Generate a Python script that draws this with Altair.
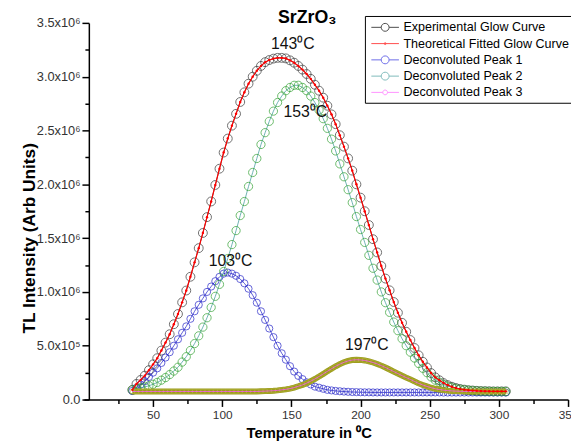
import altair as alt
import pandas as pd

temps = [35, 38, 41, 44, 47, 50, 53, 56, 59, 62,
         65, 68, 71, 74, 77, 80, 83, 86, 89, 92,
         95, 98, 101, 104, 107, 110, 113, 116, 119, 122,
         125, 128, 131, 134, 137, 140, 143, 146, 149, 152,
         155, 158, 161, 164, 167, 170, 173, 176, 179, 182,
         185, 188, 191, 194, 197, 200, 203, 206, 209, 212,
         215, 218, 221, 224, 227, 230, 233, 236, 239, 242,
         245, 248, 251, 254, 257, 260, 263, 266, 269, 272,
         275, 278, 281, 284, 287, 290, 293, 296, 299, 302, 305]

# intensities in units of 10^6
experimental = [0.09, 0.145, 0.182, 0.222, 0.273, 0.327, 0.384, 0.455, 0.529, 0.607,
                0.700, 0.795, 0.903, 1.013, 1.141, 1.275, 1.407, 1.548, 1.695, 1.841,
                1.994, 2.145, 2.295, 2.425, 2.545, 2.655, 2.765, 2.855, 2.935, 3.000,
                3.055, 3.100, 3.135, 3.155, 3.168, 3.175, 3.175, 3.170, 3.152, 3.130,
                3.100, 3.066, 3.025, 2.980, 2.925, 2.870, 2.805, 2.730, 2.650, 2.559,
                2.456, 2.350, 2.241, 2.127, 2.000, 1.876, 1.750, 1.622, 1.490, 1.367,
                1.241, 1.124, 1.015, 0.906, 0.807, 0.713, 0.630, 0.553, 0.479, 0.411,
                0.351, 0.298, 0.246, 0.206, 0.179, 0.153, 0.134, 0.119, 0.107, 0.098,
                0.092, 0.087, 0.084, 0.081, 0.079, 0.078, 0.077, 0.076, 0.076, 0.076, 0.076]

fitted = [0.09, 0.145, 0.182, 0.222, 0.273, 0.327, 0.384, 0.455, 0.529, 0.607,
          0.700, 0.795, 0.903, 1.013, 1.141, 1.275, 1.407, 1.548, 1.695, 1.841,
          1.994, 2.145, 2.295, 2.425, 2.545, 2.655, 2.765, 2.855, 2.935, 3.000,
          3.055, 3.100, 3.135, 3.155, 3.168, 3.175, 3.175, 3.170, 3.152, 3.130,
          3.100, 3.066, 3.025, 2.980, 2.925, 2.870, 2.805, 2.730, 2.650, 2.559,
          2.456, 2.350, 2.241, 2.127, 2.000, 1.876, 1.750, 1.622, 1.490, 1.367,
          1.241, 1.124, 1.015, 0.906, 0.807, 0.713, 0.630, 0.553, 0.479, 0.411,
          0.351, 0.298, 0.246, 0.206, 0.179, 0.153, 0.134, 0.119, 0.107, 0.098,
          0.092, 0.087, 0.084, 0.081, 0.079, 0.078, 0.077, 0.076, 0.076, 0.076, 0.076]

peak1 = [0.08, 0.11, 0.14, 0.17, 0.21, 0.25, 0.29, 0.34, 0.39, 0.44,
         0.50, 0.56, 0.62, 0.68, 0.75, 0.82, 0.88, 0.94, 1.00, 1.05,
         1.10, 1.14, 1.17, 1.18, 1.17, 1.15, 1.12, 1.08, 1.03, 0.97,
         0.90, 0.82, 0.74, 0.66, 0.58, 0.50, 0.43, 0.37, 0.31, 0.26,
         0.22, 0.19, 0.16, 0.14, 0.12, 0.11, 0.10, 0.09, 0.085, 0.08,
         0.077, 0.074, 0.072, 0.070, 0.069, 0.068, 0.067, 0.067, 0.066, 0.066,
         0.066, 0.066, 0.066, 0.066, 0.066, 0.066, 0.066, 0.066, 0.066, 0.066,
         0.066, 0.066, 0.066, 0.066, 0.066, 0.065, 0.065, 0.065, 0.065, 0.065,
         0.065, 0.065, 0.065, 0.065, 0.065, 0.065, 0.065, 0.065, 0.065, 0.065, 0.065]

peak2 = [0.09, 0.10, 0.107, 0.117, 0.128, 0.142, 0.159, 0.18, 0.204, 0.232,
         0.265, 0.30, 0.348, 0.398, 0.456, 0.52, 0.592, 0.673, 0.76, 0.856,
         0.959, 1.07, 1.19, 1.31, 1.44, 1.57, 1.71, 1.84, 1.98, 2.11,
         2.24, 2.37, 2.48, 2.585, 2.68, 2.76, 2.82, 2.87, 2.90, 2.92,
         2.92, 2.90, 2.87, 2.82, 2.76, 2.69, 2.61, 2.52, 2.42, 2.31,
         2.19, 2.07, 1.95, 1.83, 1.70, 1.58, 1.46, 1.34, 1.22, 1.11,
         1.00, 0.90, 0.81, 0.72, 0.64, 0.565, 0.50, 0.44, 0.385, 0.335,
         0.29, 0.25, 0.21, 0.18, 0.16, 0.14, 0.125, 0.113, 0.103, 0.095,
         0.09, 0.086, 0.083, 0.08, 0.078, 0.077, 0.076, 0.075, 0.075, 0.075, 0.075]

peak3 = [0.075, 0.075, 0.075, 0.075, 0.075, 0.075, 0.075, 0.075, 0.075, 0.075,
         0.075, 0.075, 0.075, 0.075, 0.075, 0.075, 0.075, 0.075, 0.075, 0.075,
         0.075, 0.075, 0.075, 0.075, 0.075, 0.075, 0.075, 0.075, 0.075, 0.075,
         0.075, 0.077, 0.078, 0.080, 0.082, 0.085, 0.090, 0.095, 0.102, 0.111,
         0.123, 0.136, 0.152, 0.171, 0.191, 0.214, 0.238, 0.262, 0.286, 0.309,
         0.329, 0.346, 0.359, 0.367, 0.370, 0.368, 0.363, 0.355, 0.344, 0.331,
         0.315, 0.298, 0.279, 0.260, 0.241, 0.222, 0.204, 0.187, 0.168, 0.150,
         0.135, 0.122, 0.110, 0.100, 0.093, 0.087, 0.083, 0.080, 0.078, 0.077,
         0.076, 0.075, 0.075, 0.075, 0.075, 0.075, 0.075, 0.075, 0.075, 0.075, 0.075]

series_names = ["Experimental Glow Curve", "Theoretical Fitted Glow Curve",
                "Deconvoluted Peak 1", "Deconvoluted Peak 2", "Deconvoluted Peak 3"]
legend_colors = ["#000000", "#ff0000", "#2f2fe0", "#4a9f9f", "#ff66ff"]
legend_shapes = [
    "M-1.75,0H-0.5M0.5,0H1.75M0.5,0A0.5,0.5,0,1,1,-0.5,0A0.5,0.5,0,1,1,0.5,0",
    "M-1.75,0H1.75M0.12,0A0.12,0.12,0,1,1,-0.12,0A0.12,0.12,0,1,1,0.12,0",
    "M-1.75,0H-0.5M0.5,0H1.75M0.5,0A0.5,0.5,0,1,1,-0.5,0A0.5,0.5,0,1,1,0.5,0",
    "M-1.75,0H-0.5M0.5,0H1.75M0.5,0A0.5,0.5,0,1,1,-0.5,0A0.5,0.5,0,1,1,0.5,0",
    "M-1.75,0H-0.3M0.3,0H1.75M0.3,0A0.3,0.3,0,1,1,-0.3,0A0.3,0.3,0,1,1,0.3,0",
]

ann_text = ["143\u2070C", "153\u2070C", "103\u2070C", "197\u2070C"]
ann_t = [151, 160, 106, 204.5]
ann_i = [3.30, 2.675, 1.29, 0.51]

y_ticks = [0, 0.25, 0.5, 0.75, 1.0, 1.25, 1.5, 1.75, 2.0, 2.25, 2.5, 2.75, 3.0, 3.25, 3.5]
x_ticks = [25, 50, 75, 100, 125, 150, 175, 200, 225, 250, 275, 300, 325, 350]

rows = []
for name, vals in zip(series_names, [experimental, fitted, peak1, peak2, peak3]):
    for t, v in zip(temps, vals):
        rows.append({"series": name, "T": t, "I": v})
df = pd.DataFrame(rows)
ann = pd.DataFrame({"label": ann_text, "T": ann_t, "I": ann_i})

FONT = "Liberation Sans"

x_axis = alt.Axis(
    values=x_ticks, grid=False,
    labelExpr="datum.value % 50 == 0 ? datum.label : ''",
    tickSize={"condition": {"test": "datum.value % 50 == 0", "value": 7}, "value": 4},
    labelFont=FONT, labelFontSize=12, labelColor="#333333", labelPadding=3,
    labelFlush=False, labelOverlap=False,
    domainColor="black", domainWidth=1.5, tickColor="black", tickWidth=1.5,
    title="Temperature in \u2070C", titleFont=FONT, titleFontSize=15, titleFontWeight="bold",
    titleColor="black", titleX=228, titleY=38, titleAlign="center", titleBaseline="alphabetic",
)
y_axis = alt.Axis(
    values=y_ticks, grid=False, offset=-5,
    labelExpr="datum.value == 0 ? '0.0' : (datum.value == 0.5 ? '5.0x10\u2075' : "
              "(round(datum.value*4) % 2 == 0 ? format(datum.value, '.1f') + 'x10\u2076' : ''))",
    tickSize={"condition": {"test": "round(datum.value*4) % 2 == 0", "value": 7}, "value": 4},
    labelFont=FONT, labelFontSize=13, labelColor="#333333", labelPadding=2,
    labelFlush=False, labelOverlap=False,
    domainColor="black", domainWidth=1.5, tickColor="black", tickWidth=1.5,
    title="TL Intensity (Arb Units)", titleFont=FONT, titleFontSize=17.5, titleFontWeight="bold",
    titleColor="black", titleAngle=270, titleX=-60, titleY=218, titleAlign="center",
    titleBaseline="middle",
)

xenc = alt.X("T:Q", scale=alt.Scale(domain=[0, 350], nice=False, zero=False), axis=x_axis)
yenc = alt.Y("I:Q", scale=alt.Scale(domain=[0, 3.5], nice=False), axis=y_axis)

base = alt.Chart(df).encode(x=xenc, y=yenc)


def sel(i):
    return base.transform_filter(alt.datum.series == series_names[i])


exp_line = sel(0).mark_line(color="#222222", strokeWidth=0.8)
exp_pts = sel(0).mark_point(shape="circle", filled=False, color="#333333", size=81, strokeWidth=1)
p1_line = sel(2).mark_line(color="#3333cc", strokeWidth=0.8)
p1_pts = sel(2).mark_point(shape="circle", filled=False, color="#2424c8", size=53, strokeWidth=1)
p2_line = sel(3).mark_line(color="#4a9f9f", strokeWidth=0.8)
p2_pts = sel(3).mark_point(shape="circle", filled=False, color="#2f9f2f", size=70, strokeWidth=1)
p3_band = sel(4).mark_line(color="#9c9c1c", strokeWidth=6)
p3_pts = sel(4).mark_point(shape="square", filled=False, color="#b4b43c", size=16, strokeWidth=0.8)
p3_line = sel(4).mark_line(color="#ff55ff", strokeWidth=0.8)
fit_line = sel(1).mark_line(color="#ff0000", strokeWidth=1.2)
fit_pts = sel(1).mark_point(shape="circle", filled=True, color="#ff0000", size=6, opacity=1)

labels = alt.Chart(ann).mark_text(font=FONT, fontSize=16, color="#111111").encode(
    x=xenc, y=yenc, text="label:N")

legend = alt.Legend(
    title=None, orient="none", legendX=285, legendY=-7, padding=3,
    symbolOffset=9, labelOffset=10, rowPadding=0.5, symbolSize=256, symbolStrokeWidth=1,
    labelFont=FONT, labelFontSize=12.7, labelColor="black", labelLimit=400,
    strokeColor="black", fillColor="white",
)
legend_layer = alt.Chart(df).transform_filter("false").mark_point(filled=False).encode(
    x=xenc, y=yenc,
    color=alt.Color("series:N", scale=alt.Scale(domain=series_names, range=legend_colors), legend=legend),
    shape=alt.Shape("series:N", scale=alt.Scale(domain=series_names, range=legend_shapes), legend=legend),
)

chart = alt.layer(
    exp_line, exp_pts, p1_line, p1_pts, p2_line, p2_pts, p3_band, p3_pts, p3_line,
    fit_line, fit_pts, labels, legend_layer,
).properties(
    width=491, height=382,
    title=alt.TitleParams(text="SrZrO\u2083", font=FONT, fontSize=18, fontWeight="bold",
                          color="black", anchor="middle", dx=-19, dy=21, offset=-5,
                          baseline="alphabetic"),
    autosize=alt.AutoSizeParams(type="none"),
    padding={"left": 77, "top": 12, "right": 3, "bottom": 43},
).configure_view(stroke=None)

chart.save("out.html", embed_options={"renderer": "svg", "actions": False})
